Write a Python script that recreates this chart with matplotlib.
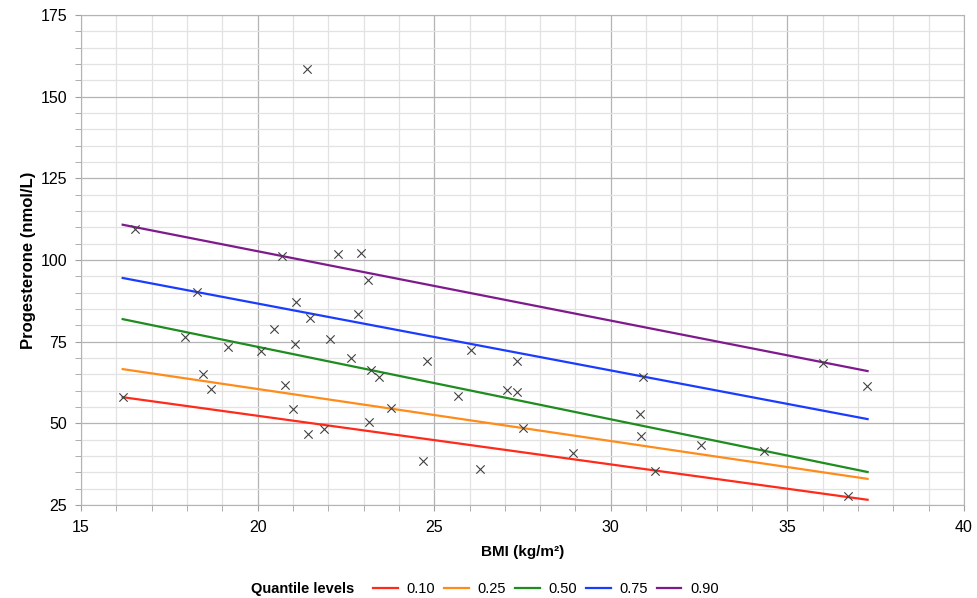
import matplotlib
matplotlib.use('Agg')
import matplotlib.pyplot as plt
from matplotlib.lines import Line2D
from matplotlib.ticker import MultipleLocator

plt.rcParams['font.family'] = ['Liberation Sans', 'DejaVu Sans']

# observed data (BMI, progesterone)
bmi = [21.39, 16.53, 20.70, 18.29, 22.27, 22.92, 23.13, 21.09, 21.49, 20.46,
       17.94, 21.07, 22.05, 19.15, 20.09, 18.44, 20.78, 18.67, 16.19, 21.00,
       21.43, 21.88, 22.83, 22.65, 23.22, 23.44, 23.78, 23.15, 24.80, 24.69,
       25.67, 26.03, 26.30, 27.06, 27.34, 27.34, 27.51, 28.94, 30.92, 30.84,
       30.86, 31.24, 32.55, 34.34, 36.02, 37.25, 36.72]
prog = [158.5, 109.6, 101.2, 90.2, 101.9, 102.1, 93.9, 87.2, 82.2, 78.9,
        76.5, 74.2, 75.7, 73.5, 72.2, 65.1, 61.6, 60.6, 58.0, 54.4,
        46.7, 48.4, 83.6, 70.0, 66.3, 64.1, 54.6, 50.3, 69.0, 38.4,
        58.4, 72.6, 36.0, 60.2, 59.7, 69.1, 48.6, 40.8, 64.1, 53.0,
        46.1, 35.4, 43.4, 41.6, 68.6, 61.3, 27.8]

# fitted quantile lines (endpoints)
line_x = [16.18, 37.27]
quantiles = ['0.10', '0.25', '0.50', '0.75', '0.90']
q_start = [58.0, 66.6, 81.9, 94.5, 110.8]
q_end = [26.6, 33.0, 35.1, 51.3, 66.0]
colors = ['#ff2a1a', '#ff8c1a', '#1e8c1e', '#1a3cff', '#7f1a8c']

fig = plt.figure(figsize=(9.78, 5.98), dpi=100)
ax = fig.add_axes([81 / 978, 1 - 505 / 598, (964 - 81) / 978, (505 - 15) / 598])

for q, y0, y1, c in zip(quantiles, q_start, q_end, colors):
    ax.plot(line_x, [y0, y1], color=c, lw=1.6, label=q, zorder=3)

ax.scatter(bmi, prog, marker='x', s=36, color='#404040', linewidths=0.8, zorder=4)

ax.set_xlim(15, 40)
ax.set_ylim(25, 175)
ax.xaxis.set_major_locator(MultipleLocator(5))
ax.xaxis.set_minor_locator(MultipleLocator(1))
ax.yaxis.set_major_locator(MultipleLocator(25))
ax.yaxis.set_minor_locator(MultipleLocator(5))
ax.grid(which='major', color='#b4b4b4', lw=0.9)
ax.grid(which='minor', color='#e2e2e2', lw=0.9)
ax.set_axisbelow(True)
for s in ax.spines.values():
    s.set_color('#b4b4b4')
ax.tick_params(which='both', color='#a0a0a0', length=4, labelsize=11.5)
ax.tick_params(axis='x', pad=7)
ax.tick_params(axis='y', pad=6)

ax.set_xlabel('BMI (kg/m²)', fontsize=11, fontweight='bold', labelpad=7)
ax.set_ylabel('Progesterone (nmol/L)', fontsize=12, fontweight='bold', labelpad=3)

handles = [Line2D([], [], color=c, lw=1.6) for c in colors]
fig.text(354 / 978, 1 - 589 / 598, 'Quantile levels', fontsize=10.5, fontweight='bold',
         ha='right', va='center')
fig.legend(handles, quantiles, loc='center left', bbox_to_anchor=(366 / 978, 1 - 589 / 598),
           ncol=5, frameon=False, fontsize=10.5, handlelength=1.7, handletextpad=0.6,
           columnspacing=0.6, borderpad=0)

fig.savefig('out.png', dpi=100)
